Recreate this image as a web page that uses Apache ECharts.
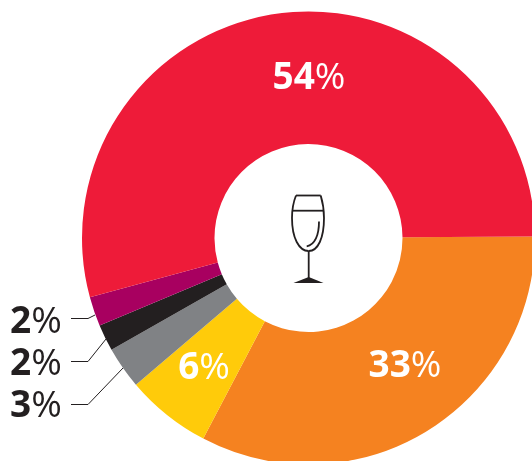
<!DOCTYPE html>
<html>
<head>
<meta charset="utf-8">
<script src="https://cdn.jsdelivr.net/npm/echarts@6/dist/echarts.min.js"></script>
<style>
html, body { margin: 0; padding: 0; background: #fff; }
#chart { width: 532px; height: 461px; }
</style>
</head>
<body>
<div id="chart"></div>
<script>
// clockwise from 3 o'clock, shares (labels show them rounded)
const names = ["orange", "yellow", "gray", "black", "purple", "red"];
const values = [32.8, 6.1, 3.0, 1.9, 2.1, 54.1];
const colors = ["#F58220", "#FFCB0A", "#808285", "#231F20", "#A80060", "#EE1B39"];

// label anchors (x, y) and leader lines for the small slices
const labelSpots = [[405, 366], [204, 368], [10, 406], [10, 364], [10, 322], [309, 78]];
const leaders = {
  2: [[123, 368], [88, 404.5], [71, 404.5]],
  3: [[106, 339], [88, 361.5], [71, 361.5]],
  4: [[95, 315], [88, 318.5], [71, 318.5]],
};

const FONT = "Open Sans";
const INK = "#231F20";

function numStyle(color) {
  return {
    b: { fontFamily: FONT, fontWeight: 700, fontSize: 37, color: color },
    r: { fontFamily: FONT, fontWeight: 400, fontSize: 37, color: color },
  };
}

const glassStroke = { fill: null, stroke: INK, lineWidth: 1.8 };

function curve(x1, y1, cx1, cy1, cx2, cy2, x2, y2) {
  return {
    type: "bezierCurve",
    silent: true,
    shape: { x1: x1, y1: y1, cpx1: cx1, cpy1: cy1, cpx2: cx2, cpy2: cy2, x2: x2, y2: y2 },
    style: glassStroke,
  };
}

function line(x1, y1, x2, y2) {
  return {
    type: "line",
    silent: true,
    shape: { x1: x1, y1: y1, x2: x2, y2: y2 },
    style: glassStroke,
  };
}

const chart = echarts.init(document.getElementById("chart"), null, { renderer: "canvas" });

chart.setOption({
  backgroundColor: "#fff",
  animation: false,
  series: [
    {
      type: "pie",
      center: [308.5, 238],
      radius: [94, 226.5],
      startAngle: 0.4,
      clockwise: true,
      avoidLabelOverlap: false,
      silent: true,
      data: values.map((v, i) => {
        const small = i in leaders;
        return {
          name: names[i],
          value: v,
          itemStyle: { color: colors[i] },
          label: {
            show: true,
            position: small ? "outside" : "inside",
            formatter: "{b|" + Math.round(v) + "}{r|%}",
            rich: numStyle(small ? INK : "#fff"),
          },
          labelLine: {
            show: small,
            lineStyle: { color: INK, width: 1 },
          },
        };
      }),
      labelLayout: (params) => {
        const i = params.dataIndex;
        const small = i in leaders;
        return {
          x: labelSpots[i][0],
          y: labelSpots[i][1],
          align: small ? "left" : "center",
          verticalAlign: "middle",
          labelLinePoints: small ? leaders[i] : undefined,
        };
      },
    },
  ],
  graphic: [
    // champagne glass in the hole
    line(296, 195.5, 320.7, 195.5),
    curve(296, 195.5, 293, 203, 292, 210, 292, 218),
    curve(292, 218, 292, 238, 299, 251, 308.7, 251),
    curve(320.7, 195.5, 323, 203, 324, 210, 324, 218),
    curve(324, 218, 324, 238, 318, 251, 308.7, 251),
    line(292.8, 210.7, 323.6, 210.7),
    curve(319, 221.5, 319, 235, 315, 245, 306.7, 246.3),
    line(308.7, 251, 308.7, 280),
    {
      type: "polygon",
      silent: true,
      shape: { points: [[293.5, 283], [308.7, 277], [323.5, 283]] },
      style: { fill: INK },
    },
  ],
});
</script>
</body>
</html>
